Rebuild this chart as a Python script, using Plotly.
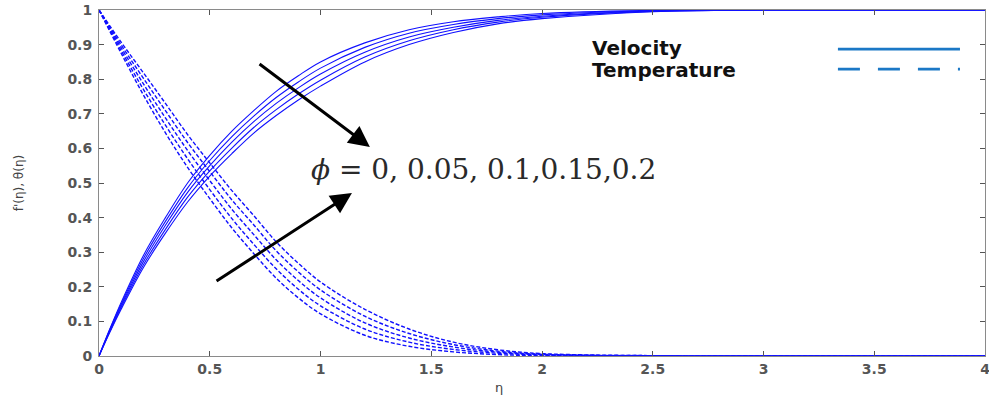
import plotly.graph_objects as go

# ---- data ----
phi_values = ["0", "0.05", "0.1", "0.15", "0.2"]

eta_v = [0, 0.05, 0.1, 0.2, 0.3, 0.4, 0.5, 0.6, 0.7, 0.8, 0.9, 1.0, 1.2, 1.4, 1.6, 1.8, 2.0, 2.5, 3.0, 4.0]
vel_phi0 = [0, 0.08, 0.155, 0.29, 0.40, 0.50, 0.58, 0.65, 0.71, 0.765, 0.81, 0.85, 0.905, 0.943, 0.966, 0.98, 0.99, 0.999, 1, 1]
vel_phi1 = [0, 0.078, 0.15, 0.281, 0.389, 0.486, 0.565, 0.634, 0.694, 0.747, 0.792, 0.832, 0.892, 0.933, 0.958, 0.975, 0.986, 0.998, 1, 1]
vel_phi2 = [0, 0.075, 0.145, 0.272, 0.378, 0.473, 0.55, 0.618, 0.678, 0.73, 0.775, 0.815, 0.878, 0.922, 0.95, 0.97, 0.982, 0.997, 1, 1]
vel_phi3 = [0, 0.072, 0.14, 0.263, 0.366, 0.459, 0.535, 0.601, 0.661, 0.712, 0.757, 0.797, 0.864, 0.911, 0.943, 0.965, 0.979, 0.996, 1, 1]
vel_phi4 = [0, 0.07, 0.135, 0.255, 0.355, 0.445, 0.52, 0.585, 0.645, 0.695, 0.74, 0.78, 0.85, 0.90, 0.935, 0.96, 0.975, 0.995, 1, 1]

eta_t = [0, 0.1, 0.2, 0.3, 0.4, 0.5, 0.6, 0.7, 0.8, 0.9, 1.0, 1.2, 1.4, 1.6, 1.8, 2.0, 2.5, 3.0, 4.0]
tem_phi0 = [1, 0.875, 0.755, 0.645, 0.545, 0.455, 0.37, 0.295, 0.225, 0.168, 0.122, 0.06, 0.028, 0.012, 0.004, 0.001, 0, 0, 0]
tem_phi1 = [1, 0.883, 0.771, 0.667, 0.57, 0.481, 0.397, 0.322, 0.252, 0.193, 0.145, 0.078, 0.04, 0.019, 0.008, 0.003, 0, 0, 0]
tem_phi2 = [1, 0.891, 0.787, 0.688, 0.594, 0.507, 0.424, 0.35, 0.278, 0.218, 0.168, 0.096, 0.052, 0.026, 0.011, 0.004, 0, 0, 0]
tem_phi3 = [1, 0.899, 0.803, 0.709, 0.617, 0.533, 0.451, 0.378, 0.304, 0.243, 0.191, 0.115, 0.065, 0.033, 0.014, 0.005, 0.001, 0, 0]
tem_phi4 = [1, 0.907, 0.819, 0.73, 0.64, 0.558, 0.478, 0.405, 0.33, 0.268, 0.214, 0.135, 0.078, 0.04, 0.018, 0.007, 0.001, 0, 0]

x_ticks = [0, 0.5, 1, 1.5, 2, 2.5, 3, 3.5, 4]
x_tick_text = ["0", "0.5", "1", "1.5", "2", "2.5", "3", "3.5", "4"]
y_ticks = [0, 0.1, 0.2, 0.3, 0.4, 0.5, 0.6, 0.7, 0.8, 0.9, 1]
y_tick_text = ["0", "0.1", "0.2", "0.3", "0.4", "0.5", "0.6", "0.7", "0.8", "0.9", "1"]

velocity_series = [vel_phi0, vel_phi1, vel_phi2, vel_phi3, vel_phi4]
temperature_series = [tem_phi0, tem_phi1, tem_phi2, tem_phi3, tem_phi4]

CURVE = "#1010ff"
LEG = "#1b78c6"
TICKFONT = dict(family="DejaVu Sans", size=14, color="#555")

fig = go.Figure()
for phi, v in zip(phi_values, velocity_series):
    fig.add_trace(go.Scatter(x=eta_v, y=v, mode="lines", name="Velocity φ=" + phi,
                             line=dict(color=CURVE, width=1.1, shape="spline", smoothing=1.0),
                             showlegend=False))
for phi, t in zip(phi_values, temperature_series):
    fig.add_trace(go.Scatter(x=eta_t, y=t, mode="lines", name="Temperature φ=" + phi,
                             line=dict(color=CURVE, width=1.4, dash="4px,2px", shape="spline", smoothing=1.0),
                             showlegend=False))

axis_common = dict(showline=True, linecolor="#8a8a8a", linewidth=1, mirror="allticks",
                   ticks="inside", ticklen=5, tickcolor="#555", showgrid=False, zeroline=False,
                   tickfont=TICKFONT, automargin=False, ticklabeloverflow="allow")
fig.update_xaxes(range=[0, 4], tickvals=x_ticks, ticktext=["<b>%s</b>" % t for t in x_tick_text], **axis_common)
fig.update_yaxes(range=[0, 1], tickvals=y_ticks, ticktext=["<b>%s</b>" % t for t in y_tick_text],
                 ticklabelstandoff=3, **axis_common)

# manual legend (text left of line, like the MATLAB original)
fig.add_annotation(x=2.215, y=0.890, xref="x", yref="y", text="<b>Velocity</b>", showarrow=False,
                   xanchor="left", yanchor="middle", font=dict(family="DejaVu Sans", size=20, color="#111"))
fig.add_annotation(x=2.215, y=0.826, xref="x", yref="y", text="<b>Temperature</b>", showarrow=False,
                   xanchor="left", yanchor="middle", font=dict(family="DejaVu Sans", size=20, color="#111"))
fig.add_shape(type="line", x0=3.336, x1=3.887, y0=0.887, y1=0.887, xref="x", yref="y",
              line=dict(color=LEG, width=2.6))
fig.add_shape(type="line", x0=3.336, x1=3.887, y0=0.829, y1=0.829, xref="x", yref="y",
              line=dict(color=LEG, width=2.6, dash="22px,18px"))

# arrows
fig.add_annotation(x=1.223, y=0.604, ax=0.718, ay=0.847, xref="x", yref="y", axref="x", ayref="y",
                   text="", showarrow=True, arrowhead=2, arrowsize=1.4, arrowwidth=3, arrowcolor="#000")
fig.add_annotation(x=1.142, y=0.471, ax=0.524, ay=0.214, xref="x", yref="y", axref="x", ayref="y",
                   text="", showarrow=True, arrowhead=2, arrowsize=1.4, arrowwidth=3, arrowcolor="#000")

# phi label
fig.add_annotation(x=1.734, y=0.538, xref="x", yref="y",
                   text="<i>ϕ</i> = " + ", ".join(phi_values[:3]) + "," + ",".join(phi_values[3:]),
                   showarrow=False, xanchor="center", yanchor="middle",
                   font=dict(family="DejaVu Serif", size=28, color="#2a2a2a"))

# axis titles
fig.add_annotation(x=1.806, y=-0.09, xref="x", yref="paper", text="η", showarrow=False,
                   yanchor="middle", font=dict(family="DejaVu Sans", size=13, color="#444"))
fig.add_annotation(x=-0.09, y=0.5, xref="paper", yref="paper", text="f'(η), θ(η)", showarrow=False,
                   textangle=-90, xanchor="center", yanchor="middle",
                   font=dict(family="DejaVu Sans", size=12, color="#444"))

fig.update_layout(width=989, height=396, autosize=False,
                  margin=dict(l=99, r=4, t=10, b=40),
                  paper_bgcolor="white", plot_bgcolor="white", showlegend=False)

# remove the default 8px page margin so the figure sits at the window's top-left corner
fig.write_html("out.html", config={"displayModeBar": False},
               post_script="document.body.style.margin='0';")
